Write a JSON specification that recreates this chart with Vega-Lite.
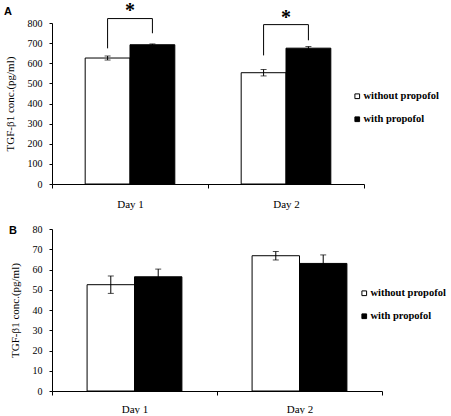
{
  "$schema": "https://vega.github.io/schema/vega-lite/v6.json",
  "background": "white",
  "padding": {"left": 4, "top": 1, "right": 2, "bottom": 0},
  "spacing": 15,
  "align": "none",
  "config": {
    "view": {"stroke": null},
    "font": "Liberation Serif",
    "axis": {
      "domainColor": "black", "tickColor": "black", "labelColor": "black",
      "labelFont": "Liberation Serif", "labelFontSize": 10,
      "titleFont": "Liberation Serif", "titleFontSize": 11, "titleFontWeight": "normal", "titleColor": "black",
      "grid": false, "tickSize": 3
    },
    "legend": {
      "orient": "none", "title": null, "symbolType": "square", "symbolSize": 22,
      "symbolStrokeColor": "black", "symbolStrokeWidth": 1,
      "labelFont": "Liberation Serif", "labelFontSize": 10.5, "labelFontWeight": "bold", "labelColor": "black",
      "labelOffset": 1, "rowPadding": 12
    },
    "title": {"font": "Liberation Sans", "fontSize": 11, "fontWeight": "bold", "anchor": "start", "frame": "bounds", "color": "black"}
  },
  "datasets": {
    "barsA": [
      {"day": "Day 1", "group": "without propofol", "value": 626, "lo": 616, "hi": 636},
      {"day": "Day 1", "group": "with propofol", "value": 692, "lo": 688, "hi": 696},
      {"day": "Day 2", "group": "without propofol", "value": 553, "lo": 537, "hi": 569},
      {"day": "Day 2", "group": "with propofol", "value": 675, "lo": 667, "hi": 683}
    ],
    "bracketsA": [
      {"day": "Day 1", "group": "without propofol", "y": 674, "ord": 1},
      {"day": "Day 1", "group": "without propofol", "y": 822, "ord": 2},
      {"day": "Day 1", "group": "with propofol", "y": 822, "ord": 3},
      {"day": "Day 1", "group": "with propofol", "y": 749, "ord": 4},
      {"day": "Day 2", "group": "without propofol", "y": 639, "ord": 1},
      {"day": "Day 2", "group": "without propofol", "y": 792, "ord": 2},
      {"day": "Day 2", "group": "with propofol", "y": 792, "ord": 3},
      {"day": "Day 2", "group": "with propofol", "y": 714, "ord": 4}
    ],
    "starsA": [
      {"day": "Day 1", "y": 858, "label": "*"},
      {"day": "Day 2", "y": 826, "label": "*"}
    ],
    "barsB": [
      {"day": "Day 1", "group": "without propofol", "value": 52.5, "lo": 48.2, "hi": 56.8},
      {"day": "Day 1", "group": "with propofol", "value": 56.4, "lo": 52.6, "hi": 60.2},
      {"day": "Day 2", "group": "without propofol", "value": 66.8, "lo": 64.7, "hi": 68.9},
      {"day": "Day 2", "group": "with propofol", "value": 63.0, "lo": 58.8, "hi": 67.2}
    ]
  },
  "resolve": {"scale": {"x": "independent", "y": "independent", "color": "independent", "xOffset": "independent"}},
  "vconcat": [
    {
      "title": {"text": "A", "offset": -16},
      "width": 312,
      "height": 161,
      "encoding": {
        "x": {"field": "day", "type": "nominal", "scale": {"paddingInner": 0, "paddingOuter": 0},
              "axis": {"title": null, "labelAngle": 0, "tickBand": "extent", "tickSize": 4, "labelPadding": 10, "labelFontSize": 11}}
      },
      "layer": [
        {
          "data": {"name": "barsA"},
          "mark": {"type": "bar", "stroke": "black", "strokeWidth": 1},
          "encoding": {
            "xOffset": {"field": "group", "type": "nominal", "scale": {"domain": ["without propofol", "with propofol"], "paddingInner": 0, "paddingOuter": 0.74}},
            "y": {"field": "value", "type": "quantitative", "scale": {"domain": [0, 800], "nice": false},
                  "axis": {"tickCount": 8, "labelOverlap": false, "title": "TGF-β1 conc.(pg/ml)", "labelPadding": 7, "titlePadding": 12}},
            "color": {"field": "group", "type": "nominal", "scale": {"domain": ["without propofol", "with propofol"], "range": ["white", "black"]},
                      "legend": {"legendX": 300, "legendY": 68}}
          }
        },
        {
          "data": {"name": "barsA"},
          "mark": {"type": "rule", "color": "black", "strokeWidth": 1},
          "encoding": {
            "xOffset": {"field": "group", "type": "nominal"},
            "y": {"field": "lo", "type": "quantitative"},
            "y2": {"field": "hi"}
          }
        },
        {
          "data": {"name": "barsA"},
          "mark": {"type": "tick", "orient": "horizontal", "color": "black", "size": 6, "thickness": 1},
          "encoding": {
            "xOffset": {"field": "group", "type": "nominal"},
            "y": {"field": "hi", "type": "quantitative"}
          }
        },
        {
          "data": {"name": "barsA"},
          "mark": {"type": "tick", "orient": "horizontal", "color": "black", "size": 6, "thickness": 1},
          "encoding": {
            "xOffset": {"field": "group", "type": "nominal"},
            "y": {"field": "lo", "type": "quantitative"}
          }
        },
        {
          "data": {"name": "bracketsA"},
          "mark": {"type": "line", "color": "black", "strokeWidth": 1},
          "encoding": {
            "xOffset": {"field": "group", "type": "nominal"},
            "y": {"field": "y", "type": "quantitative"},
            "order": {"field": "ord", "type": "quantitative"},
            "detail": {"field": "day", "type": "nominal"}
          }
        },
        {
          "data": {"name": "starsA"},
          "mark": {"type": "text", "font": "Liberation Serif", "fontSize": 20, "fontWeight": "bold", "baseline": "middle", "color": "black"},
          "encoding": {
            "y": {"field": "y", "type": "quantitative"},
            "text": {"field": "label"}
          }
        }
      ]
    },
    {
      "title": {"text": "B", "offset": -12},
      "width": 330,
      "height": 162,
      "data": {"name": "barsB"},
      "encoding": {
        "x": {"field": "day", "type": "nominal", "scale": {"paddingInner": 0, "paddingOuter": 0},
              "axis": {"title": null, "labelAngle": 0, "tickBand": "extent", "tickSize": 4, "labelPadding": 8, "labelFontSize": 11}},
        "xOffset": {"field": "group", "type": "nominal", "scale": {"domain": ["without propofol", "with propofol"], "paddingInner": 0, "paddingOuter": 0.74}}
      },
      "layer": [
        {
          "mark": {"type": "bar", "stroke": "black", "strokeWidth": 1},
          "encoding": {
            "y": {"field": "value", "type": "quantitative", "scale": {"domain": [0, 80], "nice": false},
                  "axis": {"tickCount": 8, "labelOverlap": false, "title": "TGF-β1 conc.(pg/ml)", "labelPadding": 7, "titlePadding": 12}},
            "color": {"field": "group", "type": "nominal", "scale": {"domain": ["without propofol", "with propofol"], "range": ["white", "black"]},
                      "legend": {"legendX": 307, "legendY": 59}}
          }
        },
        {
          "mark": {"type": "rule", "color": "black", "strokeWidth": 1},
          "encoding": {
            "y": {"field": "lo", "type": "quantitative"},
            "y2": {"field": "hi"}
          }
        },
        {
          "mark": {"type": "tick", "orient": "horizontal", "color": "black", "size": 6, "thickness": 1},
          "encoding": {
            "y": {"field": "hi", "type": "quantitative"}
          }
        },
        {
          "mark": {"type": "tick", "orient": "horizontal", "color": "black", "size": 6, "thickness": 1},
          "encoding": {
            "y": {"field": "lo", "type": "quantitative"}
          }
        }
      ]
    }
  ]
}
